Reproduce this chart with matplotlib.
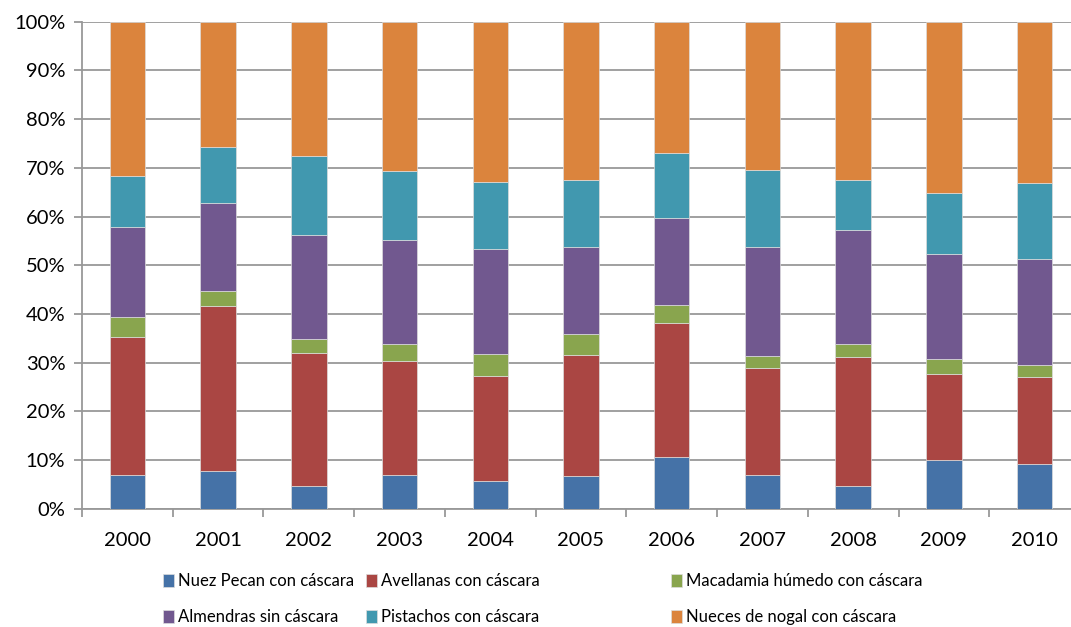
import matplotlib.pyplot as plt
import numpy as np

years = ['2000', '2001', '2002', '2003', '2004', '2005',
         '2006', '2007', '2008', '2009', '2010']

# share of each product per year (%)
nuez_pecan = [7.0, 7.7, 4.6, 7.0, 5.7, 6.7, 10.6, 7.0, 4.6, 10.1, 9.1]
avellanas = [28.3, 33.9, 27.4, 23.3, 21.5, 24.9, 27.6, 21.8, 26.6, 17.6, 18.0]
macadamia = [4.0, 3.2, 2.8, 3.5, 4.5, 4.3, 3.6, 2.5, 2.6, 3.0, 2.4]
almendras = [18.6, 18.0, 21.4, 21.4, 21.7, 17.9, 17.8, 22.4, 23.5, 21.6, 21.8]
pistachos = [10.4, 11.4, 16.2, 14.1, 13.6, 13.7, 13.5, 15.9, 10.2, 12.5, 15.5]
nueces_nogal = [31.7, 25.8, 27.6, 30.7, 33.0, 32.5, 26.9, 30.4, 32.5, 35.2, 33.2]

series = [
    ('Nuez Pecan con cáscara', nuez_pecan, '#4572A7'),
    ('Avellanas con cáscara', avellanas, '#AA4643'),
    ('Macadamia húmedo con cáscara', macadamia, '#89A54E'),
    ('Almendras sin cáscara', almendras, '#71588F'),
    ('Pistachos con cáscara', pistachos, '#4198AF'),
    ('Nueces de nogal con cáscara', nueces_nogal, '#DB843D'),
]

plt.rcParams['font.family'] = ['Lato', 'DejaVu Sans']

fig = plt.figure(figsize=(10.71, 6.27), dpi=100)
ax = fig.add_axes([82 / 1071, 1 - 508.7 / 627, 998 / 1071, 487 / 627])

x = np.arange(len(years))
totals = np.sum([s[1] for s in series], axis=0)
bottom = np.zeros(len(years))
handles = []
for name, vals, color in series:
    pct = np.array(vals) / totals * 100
    h = ax.bar(x, pct, width=0.39, bottom=bottom, color=color,
               edgecolor='#dddddd', linewidth=0.5, label=name, zorder=3)
    handles.append(h)
    bottom += pct

ax.set_xlim(-0.5, len(years) - 0.5)
ax.set_ylim(0, 100)
ax.set_yticks(np.arange(0, 101, 10))
ax.set_yticklabels([f'{v}%' for v in range(0, 101, 10)])
ax.set_xticks(x)
ax.set_xticklabels(years)
ax.set_xticks(np.arange(-0.5, len(years), 1), minor=True)

ax.grid(True, axis='y', color='#999999', linewidth=1.3, zorder=0)
for side in ['top', 'right']:
    ax.spines[side].set_visible(False)
for side in ['left', 'bottom']:
    ax.spines[side].set_color('#999999')
    ax.spines[side].set_linewidth(1.3)

ax.tick_params(axis='y', length=6, color='#999999', width=1.3,
               labelsize=14.5, pad=6)
ax.tick_params(axis='x', which='major', length=0, labelsize=14.5, pad=17)
ax.tick_params(axis='x', which='minor', length=6, color='#999999', width=1.3)

# legend: three columns of two entries, placed like the original
col_x = [163 / 1071, 366 / 1071, 671 / 1071]
for i, cx in enumerate(col_x):
    hs = [handles[i], handles[i + 3]]
    fig.legend(hs, [h.get_label() for h in hs], loc='upper left',
               bbox_to_anchor=(cx, 1 - 573 / 627), frameon=False,
               fontsize=12, handlelength=0.65, handleheight=0.85,
               handletextpad=0.25, labelspacing=1.2, borderaxespad=0,
               borderpad=0)

fig.savefig('out.png', dpi=100)
